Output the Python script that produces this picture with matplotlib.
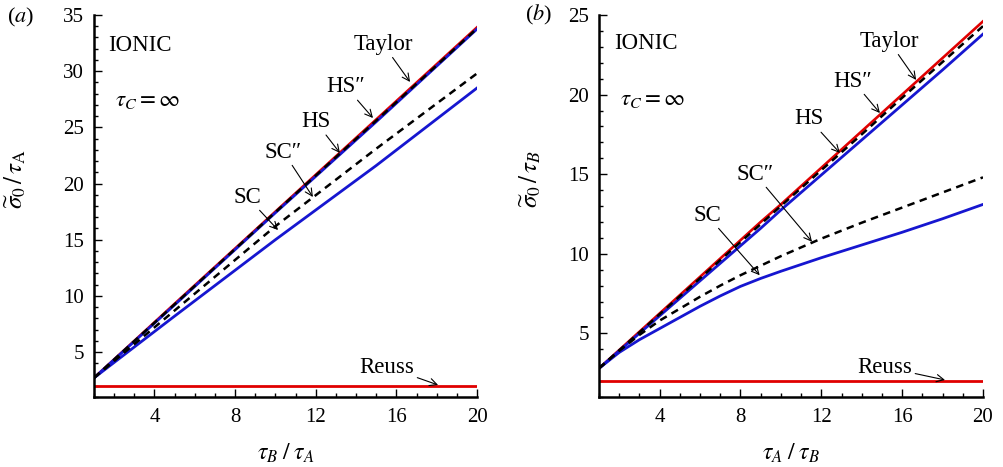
import matplotlib
matplotlib.use("Agg")
import matplotlib.pyplot as plt
from matplotlib.ticker import MultipleLocator

plt.rcParams["font.family"] = ["Liberation Serif", "DejaVu Serif"]
plt.rcParams["mathtext.fontset"] = "stix"

BLUE = "#1616d0"
RED = "#e00000"

# panel (a): tau_B / tau_A
a_x = [1, 5, 10, 15, 20]
a_taylor = [2.7, 9.3, 17.5, 25.7, 33.9]
a_hs2 = [2.7, 9.25, 17.45, 25.6, 33.8]
a_hs = [2.7, 9.2, 17.4, 25.5, 33.75]
a_sc2 = [2.7, 8.7, 16.2, 23.1, 29.8]
a_sc = [2.7, 8.2, 15.0, 21.6, 28.5]
a_reuss = [2.0, 2.0, 2.0, 2.0, 2.0]

# panel (b): tau_A / tau_B
b_x = [1, 2, 3, 4, 5, 6, 7, 8, 9, 10, 12, 14, 16, 18, 20]
b_taylor = [2.8, 3.95, 5.1, 6.25, 7.4, 8.55, 9.7, 10.85, 12.0, 13.1,
            15.4, 17.7, 20.0, 22.3, 24.6]
b_hs2 = [2.8, 3.93, 5.06, 6.2, 7.33, 8.46, 9.6, 10.73, 11.86, 13.0,
         15.25, 17.5, 19.8, 22.05, 24.3]
b_hs = [2.8, 3.9, 5.0, 6.1, 7.2, 8.3, 9.4, 10.5, 11.6, 12.75,
        14.95, 17.15, 19.35, 21.55, 23.8]
b_sc2 = [2.8, 3.9, 4.9, 5.8, 6.55, 7.3, 8.0, 8.65, 9.25, 9.85,
         10.95, 11.95, 12.9, 13.85, 14.8]
b_sc = [2.8, 3.8, 4.6, 5.3, 6.0, 6.7, 7.35, 7.95, 8.45, 8.9,
        9.75, 10.55, 11.35, 12.2, 13.1]
b_reuss = [2.0] * len(b_x)

# label text, label position, arrow tip (data coords)
a_notes = [
    ("Taylor", (15.34, 32.4), (16.68, 29.04)),
    ("HS\u2033", (13.5, 28.6), (14.84, 25.83)),
    ("HS", (12.0, 25.5), (13.20, 22.72)),
    ("SC\u2033", (10.4, 22.8), (11.86, 18.8)),
    ("SC", (8.6, 18.8), (10.13, 15.86)),
    ("Reuss", (15.54, 3.67), (18.07, 2.07)),
]
b_notes = [
    ("Taylor", (15.35, 23.35), (16.69, 20.92)),
    ("HS\u2033", (13.57, 20.85), (14.90, 18.84)),
    ("HS", (11.39, 18.47), (12.92, 16.33)),
    ("SC\u2033", (8.72, 15.01), (11.54, 10.75)),
    ("SC", (6.34, 12.43), (8.95, 8.65)),
    ("Reuss", (15.15, 2.88), (18.12, 2.07)),
]


def _draw(ax, x, taylor, hs2, hs, sc2, sc, reuss, notes, ymax, ylabel, xlabel, ylab_x):
    ax.plot(x, taylor, color=RED, lw=1.9)
    ax.plot(x, reuss, color=RED, lw=2.0)
    ax.plot(x, hs, color=BLUE, lw=2.0)
    ax.plot(x, sc, color=BLUE, lw=2.0)
    ax.plot(x, hs2, color="black", lw=1.8, dashes=(3.0, 2.2))
    ax.plot(x, sc2, color="black", lw=1.8, dashes=(3.0, 2.2))
    ax.set_xlim(1, 20)
    ax.set_ylim(1, ymax)
    ax.xaxis.set_major_locator(MultipleLocator(4))
    ax.xaxis.set_minor_locator(MultipleLocator(1))
    ax.yaxis.set_major_locator(MultipleLocator(5))
    ax.yaxis.set_minor_locator(MultipleLocator(1))
    ax.set_xticks([4, 8, 12, 16, 20])
    for side in ("top", "right"):
        ax.spines[side].set_visible(False)
    for side in ("left", "bottom"):
        ax.spines[side].set_linewidth(1.8)
    ax.tick_params(which="both", direction="in", labelsize=15, width=1.0)
    ax.tick_params(which="major", length=6)
    ax.tick_params(which="minor", length=3)
    ax.tick_params(axis="x", pad=8)
    ax.tick_params(axis="y", pad=7)
    ax.set_ylabel(ylabel, fontsize=18)
    ax.set_xlabel(xlabel, fontsize=17)
    ax.yaxis.set_label_coords(ylab_x, 0.57)
    ax.xaxis.set_label_coords(0.5, -0.118)
    for txt, xy_t, xy in notes:
        ax.annotate(txt, xy=xy, xytext=xy_t, ha="center", va="center",
                    fontsize=16.5,
                    arrowprops=dict(arrowstyle="->", color="black", lw=0.8,
                                    mutation_scale=13, shrinkA=0, shrinkB=0))


fig = plt.figure(figsize=(10.04, 4.67), dpi=100)
ax_a = fig.add_axes([94 / 1004, 70 / 467, 383 / 1004, 382 / 467])
ax_b = fig.add_axes([599 / 1004, 70 / 467, 384 / 1004, 382 / 467])

_draw(ax_a, a_x, a_taylor, a_hs2, a_hs, a_sc2, a_sc, a_reuss, a_notes, 35,
      r"$\widetilde{\sigma}_0\,/\,\tau_{\mathrm{A}}$", r"$\tau_B\;/\;\tau_A$", -0.172)
_draw(ax_b, b_x, b_taylor, b_hs2, b_hs, b_sc2, b_sc, b_reuss, b_notes, 25,
      r"$\widetilde{\sigma}_0\,/\,\tau_B$", r"$\tau_A\;/\;\tau_B$", -0.146)

ax_a.text(1.69, 32.3, "IONIC", fontsize=16.5, ha="left", va="center")
ax_a.text(2.04, 27.4, r"$\tau_C = \infty$", fontsize=16.5, ha="left", va="center")
ax_b.text(1.74, 23.24, "IONIC", fontsize=16.5, ha="left", va="center")
ax_b.text(2.04, 19.66, r"$\tau_C = \infty$", fontsize=16.5, ha="left", va="center")

fig.text(7 / 1004, 1 - 17 / 467, "($a$)", fontsize=16, ha="left", va="center")
fig.text(525 / 1004, 1 - 15 / 467, "($b$)", fontsize=16, ha="left", va="center")

fig.savefig("out.png", dpi=100)
